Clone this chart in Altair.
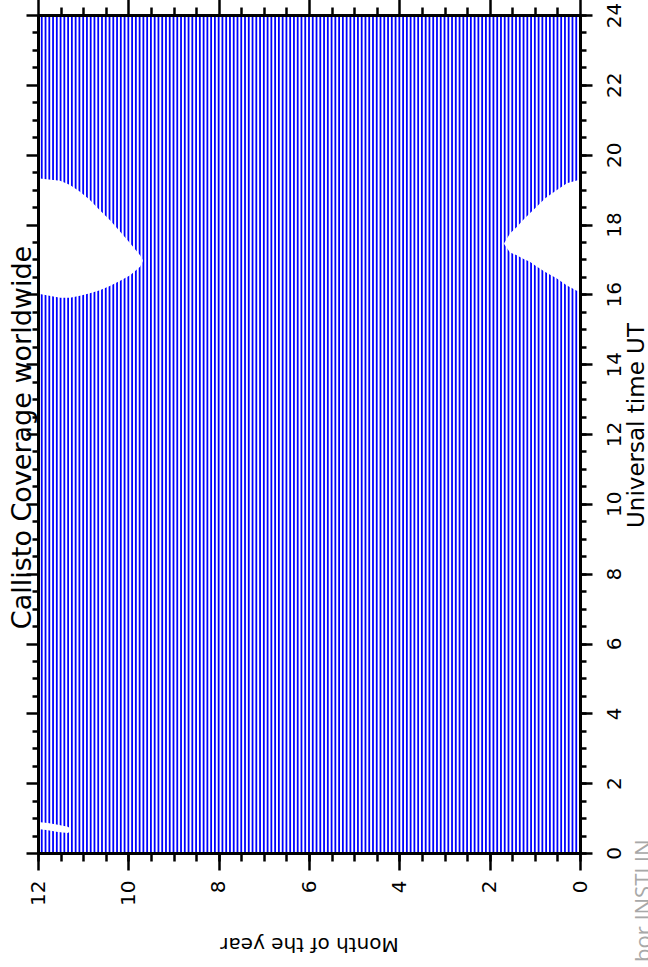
import altair as alt
import pandas as pd

# ---- data ----
# coverage is drawn as one line per sample time (every 1/12 month), spanning 0-24 UT
stripe_months = [round(12 - i / 12, 4) for i in range(145)]
ut_start = 0
ut_end = 24

# gaps without coverage (month, lower UT, upper UT)
gap_a_month = [12.0, 11.96, 11.51, 11.29, 11.07, 10.85, 10.63, 10.41, 10.18, 9.96, 9.74, 9.68]
gap_a_lo = [16.01, 16.01, 15.90, 15.90, 15.96, 16.03, 16.12, 16.24, 16.39, 16.55, 16.79, 16.95]
gap_a_hi = [19.33, 19.32, 19.25, 19.13, 18.94, 18.70, 18.41, 18.13, 17.79, 17.46, 17.12, 16.98]

gap_b_month = [1.68, 1.55, 1.40, 1.26, 1.11, 0.96, 0.77, 0.52, 0.29, 0.07, 0.0]
gap_b_lo = [17.44, 17.20, 17.12, 17.02, 16.93, 16.80, 16.64, 16.46, 16.25, 16.10, 16.08]
gap_b_hi = [17.46, 17.74, 17.93, 18.13, 18.32, 18.51, 18.75, 18.98, 19.18, 19.26, 19.28]

gap_c_month = [12.0, 11.78, 11.56, 11.34, 11.28]
gap_c_lo = [0.69, 0.65, 0.60, 0.57, 0.62]
gap_c_hi = [0.89, 0.86, 0.81, 0.75, 0.70]

month_major = [0, 2, 4, 6, 8, 10, 12]
month_minor = [i * 0.5 for i in range(25)]
ut_major = [0, 2, 4, 6, 8, 10, 12, 14, 16, 18, 20, 22, 24]
ut_minor = [i * 0.5 for i in range(49)]

title_text = "Callisto Coverage worldwide"
x_title = "Month of the year"
y_title = "Universal time UT"
watermark = "bor INSTLIN"

# ---- tables ----
stripes = pd.DataFrame({"month": stripe_months, "ut0": ut_start, "ut1": ut_end})
gaps_ab = pd.concat([
    pd.DataFrame({"month": gap_a_month, "lo": gap_a_lo, "hi": gap_a_hi, "gap": "a"}),
    pd.DataFrame({"month": gap_b_month, "lo": gap_b_lo, "hi": gap_b_hi, "gap": "b"}),
])
gap_c = pd.DataFrame({"month": gap_c_month, "lo": gap_c_lo, "hi": gap_c_hi})
wm = pd.DataFrame({"t": [watermark]})

FONT = "DejaVu Sans"
xscale = alt.Scale(domain=[0, 12], reverse=True, nice=False, zero=False)
yscale = alt.Scale(domain=[0, 24], nice=False, zero=False)

tick_x = {"condition": {"test": "datum.value % 2 === 0", "value": 17}, "value": 8}
tick_y = {"condition": {"test": "datum.value % 2 === 0", "value": 12}, "value": 6}

common = dict(domainColor="black", domainWidth=3, tickColor="black", tickWidth=2.5,
              grid=False, zindex=2)

# labelled major axes (bottom / right)
x_bottom = alt.Axis(orient="bottom", values=month_major, tickSize=17, format="d",
                    labelAngle=270, labelAlign="right", labelBaseline="middle",
                    labelPadding=10, labelFont=FONT, labelFontSize=20, labelColor="black",
                    title=x_title, titleAngle=180, titleBaseline="bottom", titleFont=FONT,
                    titleFontSize=20, titleFontWeight="normal", titleColor="black",
                    titlePadding=28, **common)
y_right = alt.Axis(orient="right", values=ut_major, tickSize=12, format="d",
                   labelAngle=270, labelAlign="center", labelBaseline="middle",
                   labelPadding=22, labelFont=FONT, labelFontSize=20, labelColor="black",
                   title=y_title, titleAngle=270, titleBaseline="middle", titleFont=FONT,
                   titleFontSize=23, titleFontWeight="normal", titleColor="black",
                   titleX=56, titleY=410, titleAlign="center", **common)
# minor ticks on bottom / right
x_bottom_minor = alt.Axis(orient="bottom", values=month_minor, tickSize=8, labels=False,
                          title=None, **common)
y_right_minor = alt.Axis(orient="right", values=ut_minor, tickSize=6, labels=False,
                         title=None, **common)
# tick-only axes (top / left)
x_top = alt.Axis(orient="top", values=month_minor, tickSize=tick_x, labels=False,
                 title=None, **common)
y_left = alt.Axis(orient="left", values=ut_minor, tickSize=tick_y, labels=False,
                  title=title_text, titleAngle=270, titleBaseline="alphabetic",
                  titleX=-8, titleY=422, titleAlign="center", titleFont=FONT,
                  titleFontSize=27, titleFontWeight="normal", titleColor="black", **common)

stripe_layer = alt.Chart(stripes).mark_rule(color="#0000ff", strokeWidth=1.8).encode(
    x=alt.X("month:Q", scale=xscale, axis=x_bottom),
    y=alt.Y("ut0:Q", scale=yscale, axis=y_right),
    y2="ut1:Q",
)

gap_layer = alt.Chart(gaps_ab).mark_area(color="white", opacity=1).encode(
    x=alt.X("month:Q", scale=xscale, axis=x_top),
    y=alt.Y("lo:Q", scale=yscale, axis=y_left),
    y2="hi:Q",
    detail="gap:N",
)

gap_c_layer = alt.Chart(gap_c).mark_area(color="white", opacity=1).encode(
    x=alt.X("month:Q", scale=xscale, axis=x_bottom_minor),
    y=alt.Y("lo:Q", scale=yscale, axis=y_right_minor),
    y2="hi:Q",
)

wm_layer = alt.Chart(wm).mark_text(
    angle=270, align="left", baseline="alphabetic", color="#a8a8a8",
    font="Open Sans", fontSize=22,
).encode(x=alt.value(613), y=alt.value(947), text="t:N")

chart = alt.layer(stripe_layer, gap_layer, gap_c_layer, wm_layer).resolve_axis(
    x="independent", y="independent"
).properties(
    width=542, height=838,
    autosize=alt.AutoSizeParams(type="none"),
    padding={"left": 38, "top": 15, "right": 68, "bottom": 114},
).configure_view(stroke=None).configure(background="white")

chart.save("out.html", embed_options={"renderer": "svg", "actions": False})
